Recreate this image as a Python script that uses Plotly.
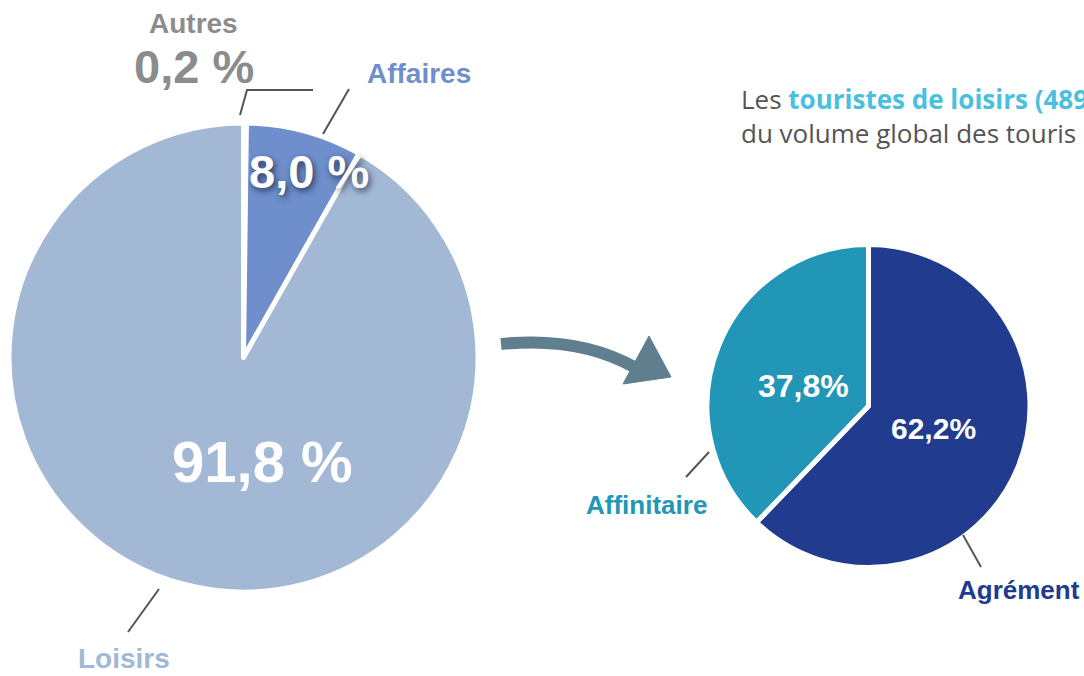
"""
Infographic: répartition des touristes par motif de séjour (deux camemberts).
"""

import plotly.graph_objects as go

W, H = 1084, 676

# left pie: global split by purpose
MOTIFS = ["Autres", "Affaires", "Loisirs"]
MOTIF_PCT = [0.2, 8.0, 91.8]
MOTIF_TXT = ["0,2 %", "8,0 %", "91,8 %"]
MOTIF_COLORS = ["#9a9a9a", "#6e8fcb", "#a3b8d4"]

# right pie: leisure tourists split
LOISIRS = ["Agrément", "Affinitaire"]
LOISIRS_PCT = [62.2, 37.8]
LOISIRS_TXT = ["62,2%", "37,8%"]
LOISIRS_COLORS = ["#213c8f", "#2196b6"]

FONT = "Liberation Sans"
LINE_C = "#555555"


def px_dom(x0, x1, y0, y1):
    # pixel box -> paper domain
    return dict(x=[x0 / W, x1 / W], y=[1 - y1 / H, 1 - y0 / H])


def ann(x, y, text, size, color, shadow=None, yanchor="middle"):
    f = dict(family=FONT, size=size, color=color, weight="bold")
    if shadow:
        f["shadow"] = shadow
    return dict(x=x, y=y, xref="x", yref="y", text=text, showarrow=False,
                font=f, xanchor="center", yanchor=yanchor)


def seg(pts, color=LINE_C, width=2):
    d = "M " + " L ".join(f"{x},{y}" for x, y in pts)
    return dict(type="path", path=d, xref="x", yref="y",
                line=dict(color=color, width=width))


fig = go.Figure()

fig.add_trace(go.Pie(
    labels=MOTIFS, values=MOTIF_PCT, sort=False, direction="clockwise",
    rotation=0, textinfo="none", hoverinfo="label+percent",
    marker=dict(colors=MOTIF_COLORS, line=dict(color="white", width=5)),
    domain=px_dom(9, 478, 123, 592), showlegend=False,
))

fig.add_trace(go.Pie(
    labels=LOISIRS, values=LOISIRS_PCT, sort=False, direction="clockwise",
    rotation=0, textinfo="none", hoverinfo="label+percent",
    marker=dict(colors=LOISIRS_COLORS, line=dict(color="white", width=5)),
    domain=px_dom(707, 1030, 244, 568), showlegend=False,
))

annotations = [
    ann(193, 23, "Autres", 28, "#8c8c8c"),
    ann(194, 66, MOTIF_TXT[0], 47, "#8c8c8c"),
    ann(419, 73, "Affaires", 28, "#6e8fcb"),
    ann(309, 171, MOTIF_TXT[1], 47, "white", shadow="2px 3px 6px rgba(20,30,60,0.75)"),
    ann(262, 461, MOTIF_TXT[2], 58, "white"),
    ann(124, 676, "Loisirs", 28, "#a3b8d4", yanchor="bottom"),
    ann(803, 386, LOISIRS_TXT[1], 32, "white"),
    ann(933, 428, LOISIRS_TXT[0], 30, "white"),
    ann(646, 505, "Affinitaire", 26, "#2196b6"),
    ann(1019, 590, "Agrément", 26, "#213c8f"),
    dict(x=739, y=116, xref="x", yref="y", showarrow=False,
         xanchor="left", yanchor="middle", align="left",
         text=("Les <b><span style='color:#4bbfe0'>touristes de loisirs (489</span></b>"
               "<br>du volume global des touris"),
         font=dict(family="Open Sans", size=26, color="#555555")),
]

shapes = [
    seg([(240, 115), (247, 90), (313, 90)]),
    seg([(323, 134), (349, 89)]),
    seg([(128, 632), (159, 589)]),
    seg([(686, 477), (709, 452)]),
    seg([(963, 535), (981, 567)]),
    # curved arrow
    dict(type="path", path="M 501,344 Q 580,336 636,368", xref="x", yref="y",
         line=dict(color="#5f7f8f", width=12)),
    dict(type="path", path="M 649,336 L 671,377 L 623,384 Z", xref="x", yref="y",
         fillcolor="#5f7f8f", line=dict(color="#5f7f8f", width=1)),
]

fig.update_layout(
    width=W, height=H,
    margin=dict(l=0, r=0, t=0, b=0),
    paper_bgcolor="white", plot_bgcolor="rgba(0,0,0,0)",
    xaxis=dict(range=[0, W], visible=False, fixedrange=True),
    yaxis=dict(range=[H, 0], visible=False, fixedrange=True),
    annotations=annotations, shapes=shapes,
)

# drop the default body margin so figure pixels line up with the window
fig.write_html("out.html", config={"displayModeBar": False},
               post_script="document.body.style.margin='0';")
